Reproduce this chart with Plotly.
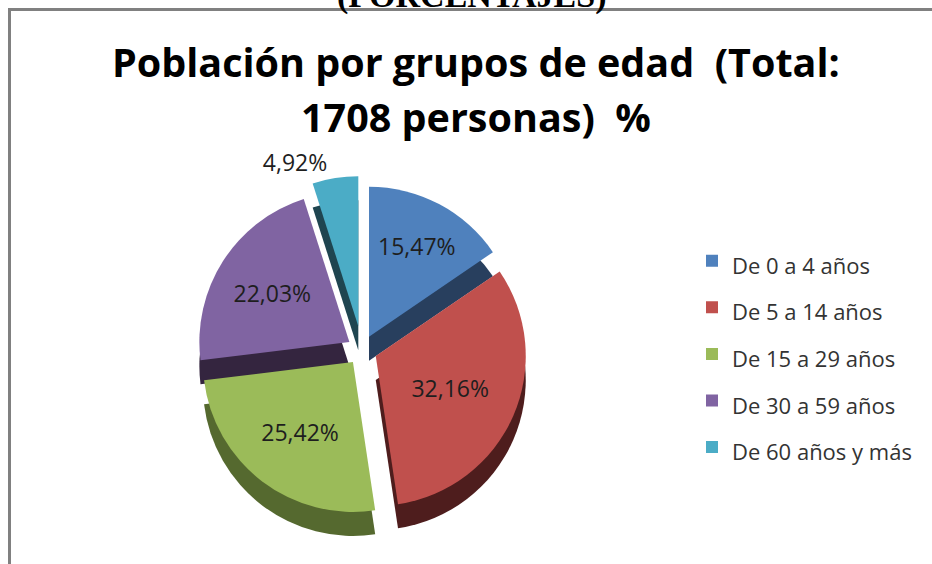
import plotly.graph_objects as go

# ---- data ----
categories = ["De 0 a 4 años", "De 5 a 14 años", "De 15 a 29 años",
              "De 30 a 59 años", "De 60 años y más"]
percentages = [15.47, 32.16, 25.42, 22.03, 4.92]
pct_labels = ["15,47%", "32,16%", "25,42%", "22,03%", "4,92%"]
title_lines = ["Población por grupos de edad  (Total:", "1708 personas)  %"]
subtitle_cut = "(PORCENTAJES)"

top_colors = ["#4F81BD", "#C0504D", "#9BBB59", "#8064A2", "#4BACC6"]
side_colors = ["#283F5E", "#4E1D1D", "#55692F", "#34253F", "#1F4550"]
pulls = [0.10, 0.10, 0.10, 0.10, 0.16]
text_pos = ["inside", "inside", "inside", "inside", "outside"]

W, H = 932, 564
FONT = "Open Sans, Lato, sans-serif"
legend_labels = ["<span style='font-size:22px'>" + c + "</span>" for c in categories]


def px_dom(x0, x1, y0, y1):
    return dict(x=[x0 / W, x1 / W], y=[1 - y1 / H, 1 - y0 / H])


cx, cy, half = 362, 350, 174
depth = 24

fig = go.Figure()
# extrusion (side) layer
fig.add_trace(go.Pie(
    labels=legend_labels, values=percentages, sort=False, direction="clockwise",
    rotation=0, pull=pulls, textinfo="none", showlegend=False, hoverinfo="skip",
    marker=dict(colors=side_colors, line=dict(width=0)),
    domain=px_dom(cx - half, cx + half, cy - half + depth, cy + half + depth),
))
# top face
fig.add_trace(go.Pie(
    labels=legend_labels, values=percentages, sort=False, direction="clockwise",
    rotation=0, pull=pulls, text=pct_labels, textinfo="text",
    textposition=text_pos, insidetextorientation="horizontal",
    textfont=dict(family=FONT, size=23, color="#1E1E1E"),
    marker=dict(colors=top_colors, line=dict(width=0)),
    domain=px_dom(cx - half, cx + half, cy - half, cy + half),
))

fig.update_layout(
    width=W, height=H,
    margin=dict(l=0, r=0, t=0, b=0),
    paper_bgcolor="white", plot_bgcolor="white",
    showlegend=True,
    legend=dict(
        x=692 / W, xanchor="left", y=1 - 354 / H, yanchor="middle",
        traceorder="normal",
        font=dict(family=FONT, size=33.5, color="#333333"),
        bgcolor="rgba(0,0,0,0)",
    ),
    annotations=[
        dict(text="<b>" + title_lines[0] + "</b>",
             x=476 / W, y=1 - 62 / H, xref="paper", yref="paper",
             xanchor="center", yanchor="middle", showarrow=False,
             font=dict(family=FONT, size=39.5, color="#000000")),
        dict(text="<b>" + title_lines[1] + "</b>",
             x=476 / W, y=1 - 117 / H, xref="paper", yref="paper",
             xanchor="center", yanchor="middle", showarrow=False,
             font=dict(family=FONT, size=39.5, color="#000000")),
        dict(text="<b>" + subtitle_cut + "</b>",
             x=472 / W, y=1 - 17 / H, xref="paper", yref="paper",
             xanchor="center", yanchor="bottom", showarrow=False,
             font=dict(family="Liberation Serif, serif", size=34, color="#000000")),
    ],
    shapes=[
        dict(type="rect", xref="paper", yref="paper",
             x0=9.5 / W, x1=1.05, y0=-0.05, y1=1 - 9.5 / H,
             line=dict(color="#808080", width=3), fillcolor="rgba(0,0,0,0)",
             layer="below"),
    ],
)

fig.write_html("out.html", config={"displayModeBar": False},
               post_script="document.body.style.margin='0';")
